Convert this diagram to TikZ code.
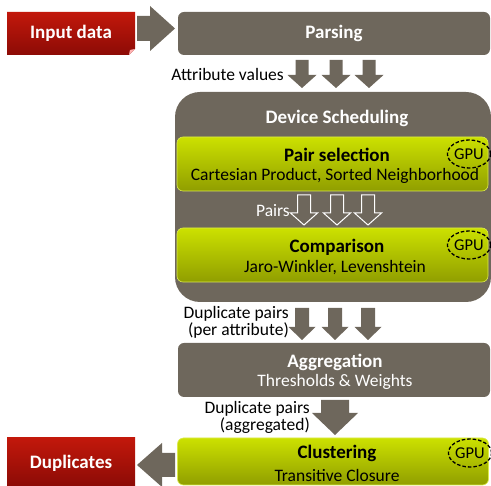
\documentclass[tikz,border=0pt]{standalone}
\usepackage{fontspec}
\setmainfont{Carlito}
\usetikzlibrary{positioning,shapes.geometric}

\definecolor{pipe}{HTML}{6E675C}
\definecolor{limeTop}{HTML}{CCE100}
\definecolor{limeBot}{HTML}{909E00}
\definecolor{redTop}{HTML}{C2180B}
\definecolor{redBot}{HTML}{8C0B06}

\tikzset{
  greybox/.style={fill=pipe, rounded corners=6pt, text=white, align=center, inner sep=0pt},
  limebox/.style={top color=limeTop, bottom color=limeBot, draw=limeTop!70!white, line width=0.6pt,
                  rounded corners=6pt, text=black, align=center, inner sep=0pt},
  redbox/.style={top color=redTop, bottom color=redBot, text=white, inner sep=0pt},
  title/.style={font=\fontsize{19}{21}\selectfont\bfseries},
  sub/.style={font=\fontsize{17.5}{20}\selectfont},
  lbl/.style={font=\fontsize{17.5}{18}\selectfont, inner sep=0pt},
  gpu/.style={draw=black, dash pattern=on 3.5pt off 2pt, line width=1.3pt, ellipse, inner sep=0.5pt,
              minimum width=40pt, minimum height=28pt, font=\fontsize{16.5}{17}\selectfont},
  solidarrow/.style={fill=pipe},
  hollowarrow/.style={draw=white, line width=1pt, line join=miter},
  % block arrow pointing down from the pic origin:
  % #1 shaft half width, #2 head half width, #3 shaft length, #4 head length, #5 style
  pics/downblk/.style n args={5}{code={
     \path[#5] (-#1,0) -- (#1,0) -- (#1,#3) -- (#2,#3) -- (0,#3+#4) -- (-#2,#3) -- (-#1,#3) -- cycle;
  }},
}

\begin{document}
\begin{tikzpicture}[x=1pt, y={(0pt,-1pt)}]
  \useasboundingbox (0,0) rectangle (491,486);

  % ---- input ----
  \path[redbox] (7,12) -- (135,12) -- (135,49) -- (129,55) -- (7,55) -- cycle;
  \fill[red!30!white] (135,49) -- (129,55) -- (130,50) -- cycle;
  \node[title, text=white] (input) at (71,33.5) {Input data};

  \fill[pipe] (137,16) -- (150,16) -- (150,6) -- (175,28.5) -- (150,51) -- (150,41) -- (137,41) -- cycle;

  \node[greybox, title, minimum width=312pt, minimum height=43pt] (parse) at (334,33.5) {Parsing};

  % ---- attribute values ----
  \node[lbl, anchor=east] (attr) at (284,74) {Attribute values};
  \foreach \cx in {302,336,369}
    \pic at (\cx,60) {downblk={6.5}{14.5}{15}{13}{solidarrow}};

  % ---- device scheduling container ----
  \node[fill=pipe, rounded corners=25pt, minimum width=316pt, minimum height=210pt, inner sep=0pt]
    (sched) at (333,197) {};
  \node[title, text=white] (schedt) at (337,118) {Device Scheduling};

  \node[limebox, minimum width=311pt, minimum height=54pt] (pairs) at (332.5,164) {};
  \node[title] (pairst) at (337,155) {Pair selection};
  \node[sub] (pairss) at (335,176) {Cartesian Product, Sorted Neighborhood};
  \node[gpu] (gpu1) at (469,154) {GPU};

  \node[lbl, text=white, anchor=east] (pairl) at (290,211) {Pairs};
  \foreach \cx in {304,337,368}
    \pic at (\cx,195) {downblk={6.5}{13.5}{18}{12}{hollowarrow}};

  \node[limebox, minimum width=311pt, minimum height=54pt] (comp) at (332.5,255) {};
  \node[title] (compt) at (337,247) {Comparison};
  \node[sub] (comps) at (335,268) {Jaro-Winkler, Levenshtein};
  \node[gpu] (gpu2) at (469,245) {GPU};

  % ---- duplicate pairs per attribute ----
  \node[lbl, align=right, anchor=east] (dupa) at (289,322.5) {Duplicate pairs\\[-1pt](per attribute)};
  \foreach \cx in {302,335,368}
    \pic at (\cx,308) {downblk={7}{13.5}{19}{13}{solidarrow}};

  \node[greybox, minimum width=312pt, minimum height=54pt] (aggr) at (334,370) {};
  \node[title, text=white] (aggrt) at (335,362) {Aggregation};
  \node[sub, text=white] (aggrs) at (335,382) {Thresholds \& Weights};

  % ---- aggregated duplicates ----
  \node[lbl, align=right, anchor=east] (dupb) at (310,417.5) {Duplicate pairs\\[-1pt](aggregated)};
  \pic at (335,400) {downblk={14}{23}{13}{22}{solidarrow}};

  \node[limebox, minimum width=311pt, minimum height=47pt] (clus) at (333,461.5) {};
  \node[title] (clust) at (337,453) {Clustering};
  \node[sub] (cluss) at (337,475) {Transitive Closure};
  \node[gpu] (gpu3) at (470,453) {GPU};

  % ---- output ----
  \fill[pipe] (175,453) -- (162,453) -- (162,443) -- (137,465) -- (162,487) -- (162,477) -- (175,477) -- cycle;
  \path[redbox] (7,438) rectangle (135,486);
  \node[title, text=white] (dups) at (71,463) {Duplicates};
\end{tikzpicture}
\end{document}
